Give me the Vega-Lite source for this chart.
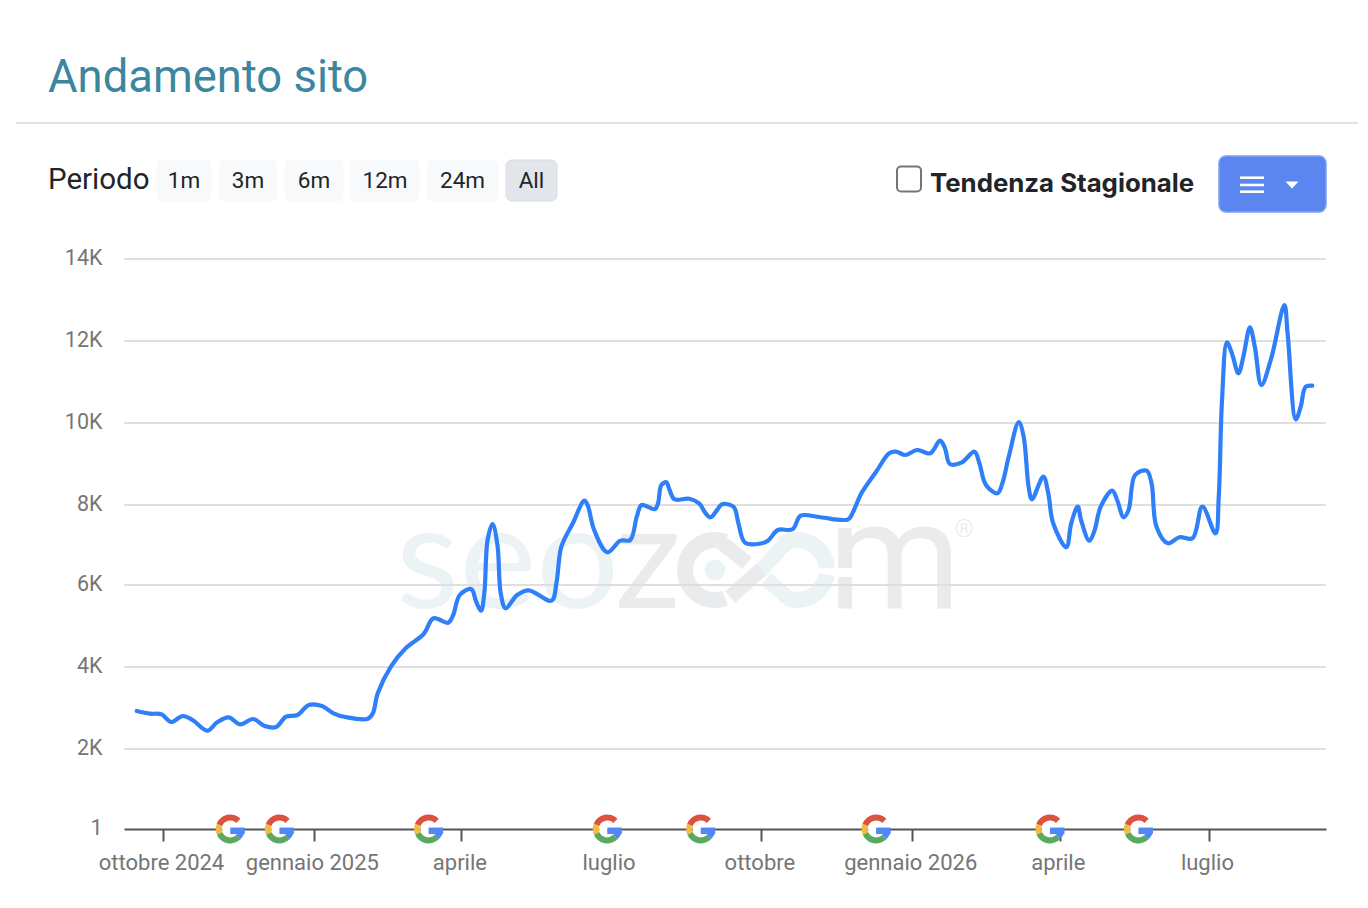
{
  "$schema": "https://vega.github.io/schema/vega-lite/v6.json",
  "background": "white",
  "autosize": {"type": "none"},
  "padding": {"left": 124, "top": 259, "right": 42, "bottom": 79},
  "width": 1202,
  "height": 570,
  "config": {"view": {"stroke": null}},
  "title": {
    "text": "Andamento sito",
    "anchor": "start",
    "frame": "group",
    "dx": -76,
    "offset": -15,
    "baseline": "alphabetic",
    "font": "Roboto",
    "fontSize": 45.4,
    "fontWeight": 400,
    "color": "#3c86a0"
  },
  "datasets": {
    "traffic": [
      {"date": "2024-09-15", "visits": 2927},
      {"date": "2024-09-23", "visits": 2861},
      {"date": "2024-09-30", "visits": 2846},
      {"date": "2024-10-06", "visits": 2659},
      {"date": "2024-10-13", "visits": 2805},
      {"date": "2024-10-19", "visits": 2707},
      {"date": "2024-10-28", "visits": 2446},
      {"date": "2024-11-03", "visits": 2651},
      {"date": "2024-11-10", "visits": 2773},
      {"date": "2024-11-17", "visits": 2602},
      {"date": "2024-11-25", "visits": 2732},
      {"date": "2024-12-02", "visits": 2561},
      {"date": "2024-12-09", "visits": 2537},
      {"date": "2024-12-15", "visits": 2788},
      {"date": "2024-12-22", "visits": 2829},
      {"date": "2024-12-29", "visits": 3073},
      {"date": "2025-01-06", "visits": 3049},
      {"date": "2025-01-13", "visits": 2871},
      {"date": "2025-01-21", "visits": 2773},
      {"date": "2025-02-03", "visits": 2739},
      {"date": "2025-02-06", "visits": 2871},
      {"date": "2025-02-09", "visits": 3358},
      {"date": "2025-02-17", "visits": 4007},
      {"date": "2025-02-26", "visits": 4456},
      {"date": "2025-03-09", "visits": 4805},
      {"date": "2025-03-15", "visits": 5188},
      {"date": "2025-03-24", "visits": 5080},
      {"date": "2025-03-27", "visits": 5268},
      {"date": "2025-03-31", "visits": 5756},
      {"date": "2025-04-07", "visits": 5902},
      {"date": "2025-04-10", "visits": 5593},
      {"date": "2025-04-13", "visits": 5373},
      {"date": "2025-04-15", "visits": 5805},
      {"date": "2025-04-17", "visits": 7125},
      {"date": "2025-04-20", "visits": 7525},
      {"date": "2025-04-23", "visits": 7000},
      {"date": "2025-04-25", "visits": 5805},
      {"date": "2025-04-28", "visits": 5432},
      {"date": "2025-05-05", "visits": 5756},
      {"date": "2025-05-12", "visits": 5871},
      {"date": "2025-05-26", "visits": 5617},
      {"date": "2025-05-29", "visits": 6050},
      {"date": "2025-06-01", "visits": 6958},
      {"date": "2025-06-08", "visits": 7543},
      {"date": "2025-06-15", "visits": 8105},
      {"date": "2025-06-17", "visits": 8000},
      {"date": "2025-06-21", "visits": 7375},
      {"date": "2025-06-29", "visits": 6818},
      {"date": "2025-07-07", "visits": 7108},
      {"date": "2025-07-13", "visits": 7125},
      {"date": "2025-07-17", "visits": 7708},
      {"date": "2025-07-20", "visits": 8000},
      {"date": "2025-07-28", "visits": 7895},
      {"date": "2025-07-30", "visits": 8049},
      {"date": "2025-08-01", "visits": 8488},
      {"date": "2025-08-04", "visits": 8554},
      {"date": "2025-08-06", "visits": 8366},
      {"date": "2025-08-09", "visits": 8139},
      {"date": "2025-08-18", "visits": 8154},
      {"date": "2025-08-24", "visits": 8041},
      {"date": "2025-08-28", "visits": 7793},
      {"date": "2025-08-31", "visits": 7693},
      {"date": "2025-09-04", "visits": 7875},
      {"date": "2025-09-07", "visits": 8017},
      {"date": "2025-09-14", "visits": 7958},
      {"date": "2025-09-17", "visits": 7543},
      {"date": "2025-09-21", "visits": 7058},
      {"date": "2025-09-30", "visits": 7033},
      {"date": "2025-10-05", "visits": 7108},
      {"date": "2025-10-11", "visits": 7375},
      {"date": "2025-10-20", "visits": 7393},
      {"date": "2025-10-25", "visits": 7733},
      {"date": "2025-11-06", "visits": 7693},
      {"date": "2025-11-23", "visits": 7643},
      {"date": "2025-11-26", "visits": 7833},
      {"date": "2025-12-01", "visits": 8285},
      {"date": "2025-12-10", "visits": 8812},
      {"date": "2025-12-18", "visits": 9261},
      {"date": "2025-12-22", "visits": 9300},
      {"date": "2025-12-28", "visits": 9220},
      {"date": "2026-01-04", "visits": 9341},
      {"date": "2026-01-12", "visits": 9261},
      {"date": "2026-01-18", "visits": 9568},
      {"date": "2026-01-21", "visits": 9383},
      {"date": "2026-01-24", "visits": 9000},
      {"date": "2026-01-31", "visits": 9032},
      {"date": "2026-02-08", "visits": 9300},
      {"date": "2026-02-11", "visits": 9017},
      {"date": "2026-02-15", "visits": 8488},
      {"date": "2026-02-22", "visits": 8285},
      {"date": "2026-02-25", "visits": 8529},
      {"date": "2026-03-01", "visits": 9195},
      {"date": "2026-03-07", "visits": 10020},
      {"date": "2026-03-10", "visits": 9666},
      {"date": "2026-03-13", "visits": 8446},
      {"date": "2026-03-15", "visits": 8139},
      {"date": "2026-03-22", "visits": 8690},
      {"date": "2026-03-25", "visits": 8285},
      {"date": "2026-03-28", "visits": 7543},
      {"date": "2026-04-05", "visits": 6943},
      {"date": "2026-04-08", "visits": 7543},
      {"date": "2026-04-12", "visits": 7958},
      {"date": "2026-04-14", "visits": 7625},
      {"date": "2026-04-19", "visits": 7108},
      {"date": "2026-04-22", "visits": 7333},
      {"date": "2026-04-26", "visits": 7958},
      {"date": "2026-05-03", "visits": 8349},
      {"date": "2026-05-06", "visits": 8122},
      {"date": "2026-05-10", "visits": 7693},
      {"date": "2026-05-13", "visits": 7875},
      {"date": "2026-05-17", "visits": 8732},
      {"date": "2026-05-24", "visits": 8837},
      {"date": "2026-05-27", "visits": 8529},
      {"date": "2026-05-30", "visits": 7458},
      {"date": "2026-06-06", "visits": 7043},
      {"date": "2026-06-13", "visits": 7193},
      {"date": "2026-06-21", "visits": 7168},
      {"date": "2026-06-27", "visits": 7958},
      {"date": "2026-07-05", "visits": 7293},
      {"date": "2026-07-07", "visits": 8203},
      {"date": "2026-07-09", "visits": 10561},
      {"date": "2026-07-12", "visits": 11968},
      {"date": "2026-07-15", "visits": 11700},
      {"date": "2026-07-19", "visits": 11212},
      {"date": "2026-07-22", "visits": 11617},
      {"date": "2026-07-26", "visits": 12334},
      {"date": "2026-07-29", "visits": 11861},
      {"date": "2026-08-02", "visits": 10927},
      {"date": "2026-08-08", "visits": 11578},
      {"date": "2026-08-16", "visits": 12878},
      {"date": "2026-08-18", "visits": 12187},
      {"date": "2026-08-23", "visits": 10090},
      {"date": "2026-08-26", "visits": 10397},
      {"date": "2026-08-29", "visits": 10885},
      {"date": "2026-09-02", "visits": 10910}
    ],
    "updates": [
      {"date": "2024-11-11", "visits": 1},
      {"date": "2024-12-11", "visits": 1},
      {"date": "2025-03-12", "visits": 1},
      {"date": "2025-06-29", "visits": 1},
      {"date": "2025-08-25", "visits": 1},
      {"date": "2025-12-10", "visits": 1},
      {"date": "2026-03-26", "visits": 1},
      {"date": "2026-05-19", "visits": 1}
    ],
    "grid": [
      {"date": "2024-09-07T05:00:00Z", "dateEnd": "2026-09-10T10:00:00Z", "visits": 2000},
      {"date": "2024-09-07T05:00:00Z", "dateEnd": "2026-09-10T10:00:00Z", "visits": 4000},
      {"date": "2024-09-07T05:00:00Z", "dateEnd": "2026-09-10T10:00:00Z", "visits": 6000},
      {"date": "2024-09-07T05:00:00Z", "dateEnd": "2026-09-10T10:00:00Z", "visits": 8000},
      {"date": "2024-09-07T05:00:00Z", "dateEnd": "2026-09-10T10:00:00Z", "visits": 10000},
      {"date": "2024-09-07T05:00:00Z", "dateEnd": "2026-09-10T10:00:00Z", "visits": 12000},
      {"date": "2024-09-07T05:00:00Z", "dateEnd": "2026-09-10T10:00:00Z", "visits": 14000}
    ],
    "separator": [{"slot": 0, "slotEnd": 1, "line": 0}],
    "buttons": [
      {"label": "1m", "slot": 2, "slotEnd": 3, "mid": 2.5, "state": "off"},
      {"label": "3m", "slot": 4, "slotEnd": 5, "mid": 4.5, "state": "off"},
      {"label": "6m", "slot": 6, "slotEnd": 7, "mid": 6.5, "state": "off"},
      {"label": "12m", "slot": 8, "slotEnd": 9, "mid": 8.5, "state": "off"},
      {"label": "24m", "slot": 10, "slotEnd": 11, "mid": 10.5, "state": "off"},
      {"label": "All", "slot": 12, "slotEnd": 13, "mid": 12.5, "state": "on"}
    ],
    "letters": [
      {"label": "seo", "slot": 23, "part": "seo"},
      {"label": "z", "slot": 26, "part": "zoom"}
    ],
    "loop": [
      {"slot": 31, "slotEnd": 32, "line": 14, "lineEnd": 15, "part": "zoom"},
      {"slot": 34, "slotEnd": 35, "line": 16, "lineEnd": 20, "part": "zoom"},
      {"slot": 32, "slotEnd": 33, "line": 15, "lineEnd": 21, "part": "seo"},
      {"slot": 36, "slotEnd": 33, "line": 17, "lineEnd": 22, "part": "seo"}
    ]
  },
  "resolve": {"scale": {"x": "independent", "y": "independent", "color": "independent", "stroke": "independent"}},
  "layer": [
    {
      "encoding": {
        "x": {
          "field": "slot",
          "type": "quantitative",
          "axis": null,
          "scale": {
            "zero": false,
            "nice": false,
            "domain": [0,1,2,3,4,5,6,7,8,9,10,11,12,13,14,15,16,17,18,19,20,21,22,23,24,25,26,27,28,29,30,31,32,33,34,35,36,37,38],
            "range": [-108,1234,33,87,95,153,161,219,227,295,303,374,382,433,773,797,1095,1202,1116,1140,1168,-76,806,272,381,451,491,704,840,591,673,606,638,664,598,623,642,712,732]
          }
        },
        "y": {
          "field": "line",
          "type": "quantitative",
          "axis": null,
          "scale": {
            "zero": false,
            "nice": false,
            "domain": [0,1,2,3,4,5,6,7,8,9,10,11,12,13,14,15,16,17,18,19,20,21,22,23,24],
            "range": [-136,-103,-99,-92.5,-79,-78,-75,-67.5,-58,-47,349,-81.3,-74,-67.3,338,310,284,320,311,271,304,282,339,309,318]
          }
        }
      },
      "layer": [
        {
          "data": {"name": "separator"},
          "mark": {"type": "rule", "color": "#dfe3e6", "strokeWidth": 2},
          "encoding": {"x2": {"field": "slotEnd"}}
        },
        {
          "data": {"name": "letters"},
          "transform": [{"calculate": "10", "as": "line"}],
          "mark": {"type": "text", "font": "Lato", "fontSize": 146, "fontWeight": 400, "baseline": "alphabetic", "align": "left"},
          "encoding": {
            "text": {"field": "label"},
            "color": {"field": "part", "type": "nominal", "legend": null, "scale": {"domain": ["seo", "zoom"], "range": ["#ebf3f5", "#e9ebed"]}}
          }
        },
        {
          "data": {"values": [{"slot": 27, "line": 10, "label": "m"}]},
          "mark": {"type": "text", "font": "Roboto", "fontSize": 152, "fontWeight": 400, "color": "#e9ebed", "baseline": "alphabetic", "align": "left"},
          "encoding": {"text": {"field": "label"}}
        },
        {
          "data": {"values": [{"slot": 37, "slotEnd": 38, "line": 23, "lineEnd": 24}]},
          "mark": {"type": "rect", "color": "white"},
          "encoding": {"x2": {"field": "slotEnd"}, "y2": {"field": "lineEnd"}}
        },
        {
          "data": {"values": [{"slot": 29, "line": 18}]},
          "mark": {"type": "arc", "radius": 38, "radius2": 22, "theta": 2.8, "theta2": 6.63, "color": "#e9ebed"},
          "encoding": {}
        },
        {
          "data": {"values": [{"slot": 30, "line": 18}]},
          "mark": {"type": "arc", "radius": 38, "radius2": 22, "theta": -0.5, "theta2": 1.5, "color": "#ebf3f5"},
          "encoding": {}
        },
        {
          "data": {"values": [{"slot": 30, "line": 18}]},
          "mark": {"type": "arc", "radius": 38, "radius2": 22, "theta": 1.72, "theta2": 3.5, "color": "#ebf3f5"},
          "encoding": {}
        },
        {
          "data": {"values": [{"slot": 29, "line": 18}]},
          "mark": {"type": "point", "shape": "circle", "filled": true, "opacity": 1, "size": 430, "color": "#ebf3f5"},
          "encoding": {}
        },
        {
          "data": {"name": "loop"},
          "mark": {"type": "rule", "strokeWidth": 15},
          "encoding": {
            "x2": {"field": "slotEnd"},
            "y2": {"field": "lineEnd"},
            "color": {"field": "part", "type": "nominal", "legend": null}
          }
        },
        {
          "data": {"values": [{"slot": 28, "line": 19, "label": "®"}]},
          "mark": {"type": "text", "font": "Roboto", "fontSize": 24, "fontWeight": 300, "color": "#e9ebed", "align": "center", "baseline": "middle"},
          "encoding": {"text": {"field": "label"}}
        },
        {
          "data": {"name": "buttons"},
          "transform": [{"calculate": "2", "as": "line"}, {"calculate": "8", "as": "lineEnd"}],
          "mark": {"type": "rect", "cornerRadius": 6, "strokeWidth": 1},
          "encoding": {
            "x2": {"field": "slotEnd"},
            "y2": {"field": "lineEnd"},
            "fill": {"field": "state", "type": "nominal", "legend": null, "scale": {"domain": ["off", "on"], "range": ["#f8f9fa", "#e2e5ea"]}},
            "stroke": {"field": "state", "type": "nominal", "legend": null, "scale": {"domain": ["off", "on"], "range": ["#f8f9fa", "#d9dce1"]}}
          }
        },
        {
          "data": {"name": "buttons"},
          "transform": [{"calculate": "5", "as": "line"}],
          "mark": {"type": "text", "font": "Roboto", "fontSize": 22.5, "color": "#212529", "align": "center", "baseline": "middle"},
          "encoding": {
            "x": {"field": "mid", "type": "quantitative", "axis": null},
            "text": {"field": "label"}
          }
        },
        {
          "data": {"values": [{"slot": 21, "line": 4, "label": "Periodo"}]},
          "mark": {"type": "text", "font": "Roboto", "fontSize": 29.5, "color": "#212529", "align": "left", "baseline": "middle"},
          "encoding": {"text": {"field": "label"}}
        },
        {
          "data": {"values": [{"slot": 14, "slotEnd": 15, "line": 3, "lineEnd": 7}]},
          "mark": {"type": "rect", "cornerRadius": 4, "fill": "white", "stroke": "#767676", "strokeWidth": 2},
          "encoding": {"x2": {"field": "slotEnd"}, "y2": {"field": "lineEnd"}}
        },
        {
          "data": {"values": [{"slot": 22, "line": 6, "label": "Tendenza Stagionale"}]},
          "mark": {"type": "text", "font": "Inter", "fontSize": 25.8, "fontWeight": 700, "color": "#212529", "align": "left", "baseline": "middle"},
          "encoding": {"text": {"field": "label"}}
        },
        {
          "data": {"values": [{"slot": 16, "slotEnd": 17, "line": 1, "lineEnd": 9}]},
          "mark": {"type": "rect", "cornerRadius": 7, "fill": "#5b86f0", "stroke": "#7fa1f5", "strokeWidth": 1.5},
          "encoding": {"x2": {"field": "slotEnd"}, "y2": {"field": "lineEnd"}}
        },
        {
          "data": {"values": [{"slot": 18, "slotEnd": 19, "line": 11}, {"slot": 18, "slotEnd": 19, "line": 12}, {"slot": 18, "slotEnd": 19, "line": 13}]},
          "mark": {"type": "rule", "color": "white", "strokeWidth": 2.6},
          "encoding": {"x2": {"field": "slotEnd"}}
        },
        {
          "data": {"values": [{"slot": 20, "line": 12}]},
          "mark": {"type": "point", "shape": "M -1 -0.55 L 1 -0.55 L 0 0.55 Z", "filled": true, "opacity": 1, "size": 168, "color": "white"},
          "encoding": {}
        }
      ]
    },
    {
      "encoding": {
        "x": {
          "field": "date",
          "type": "temporal",
          "scale": {"type": "utc", "domain": ["2024-09-07T05:00:00Z", "2026-09-10T10:00:00Z"]},
          "axis": {
            "title": null,
            "grid": false,
            "values": ["2024-10-01", "2025-01-01", "2025-04-01", "2025-07-01", "2025-10-01", "2026-01-01", "2026-04-01", "2026-07-01"],
            "labelExpr": "['gennaio', '', '', 'aprile', '', '', 'luglio', '', '', 'ottobre'][utcmonth(datum.value)] + (utcmonth(datum.value) == 0 || utcyear(datum.value) == 2024 ? ' ' + utcyear(datum.value) : '')",
            "domainColor": "#555555",
            "domainWidth": 2,
            "tickColor": "#555555",
            "tickWidth": 2,
            "tickSize": 12,
            "labelFont": "Roboto",
            "labelFontSize": 22,
            "labelColor": "#757575",
            "labelPadding": 11,
            "labelOffset": -2,
            "labelOverlap": false,
            "labelFlush": false
          }
        },
        "y": {
          "field": "visits",
          "type": "quantitative",
          "scale": {
            "zero": false,
            "nice": false,
            "domain": [1, 2000, 4000, 6000, 8000, 10000, 12000, 14000],
            "range": [570, 490, 408, 326, 246, 164, 82, 0]
          },
          "axis": {
            "title": null,
            "grid": false,
            "domain": false,
            "ticks": false,
            "values": [1, 2000, 4000, 6000, 8000, 10000, 12000, 14000],
            "labelExpr": "datum.value == 1 ? '1' : (datum.value / 1000) + 'K'",
            "labelFont": "Roboto",
            "labelFontSize": 21.5,
            "labelColor": "#757575",
            "labelPadding": 22,
            "labelOffset": -1,
            "labelOverlap": false,
            "labelFlush": false
          }
        }
      },
      "layer": [
        {
          "data": {"name": "grid"},
          "mark": {"type": "rule", "color": "#dfdfdf", "strokeWidth": 2},
          "encoding": {"x2": {"field": "dateEnd"}}
        },
        {
          "data": {"name": "traffic"},
          "mark": {"type": "line", "interpolate": "catmull-rom", "color": "#2e7ff8", "strokeWidth": 4.2, "strokeCap": "round", "strokeJoin": "round"}
        },
        {"data": {"name": "updates"}, "mark": {"type": "point", "shape": "circle", "filled": true, "opacity": 1, "size": 260, "color": "white"}},
        {"data": {"name": "updates"}, "mark": {"type": "arc", "radius": 14.5, "radius2": 8.5, "theta": -1.22, "theta2": 0.79, "color": "#dc5240"}},
        {"data": {"name": "updates"}, "mark": {"type": "arc", "radius": 14.5, "radius2": 8.5, "theta": -1.97, "theta2": -1.22, "color": "#f4bb41"}},
        {"data": {"name": "updates"}, "mark": {"type": "arc", "radius": 14.5, "radius2": 8.5, "theta": -3.93, "theta2": -1.97, "color": "#5aa95e"}},
        {"data": {"name": "updates"}, "mark": {"type": "arc", "radius": 14.5, "radius2": 8.5, "theta": 1.57, "theta2": 2.36, "color": "#4f88f5"}},
        {"data": {"name": "updates"}, "mark": {"type": "point", "shape": "M 0 -0.1 L 1 -0.1 L 1 0.35 L 0 0.35 Z", "filled": true, "opacity": 1, "size": 840, "color": "#4f88f5"}}
      ]
    }
  ]
}
